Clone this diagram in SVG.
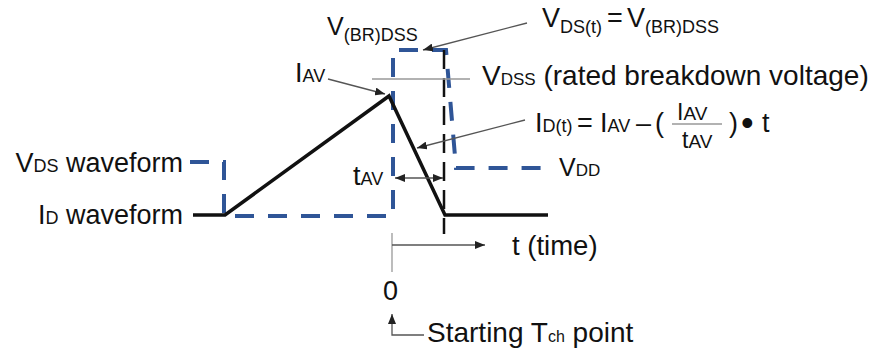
<svg xmlns="http://www.w3.org/2000/svg" width="878" height="352" viewBox="0 0 878 352">
<style>
text{font-family:"Liberation Sans",Arial,sans-serif;fill:#111;}
.m{font-size:27px;}
.s{font-size:18px;}
.vds{fill:none;stroke:#2f5597;stroke-width:4;stroke-dasharray:19 14;}
.id{fill:none;stroke:#111;stroke-width:3.5;stroke-linejoin:miter;}
.blk{fill:none;stroke:#111;stroke-width:2.5;stroke-dasharray:19 9;}
.ptr{fill:none;stroke:#555;stroke-width:1.3;}
.lt{fill:none;stroke:#999;stroke-width:1.3;}
</style>
<defs>
<marker id="ah" markerUnits="userSpaceOnUse" markerWidth="11" markerHeight="8" refX="10" refY="4" orient="auto-start-reverse">
<path d="M0,0 L10,4 L0,8 z" fill="#222"/>
</marker>
</defs>
<g id="waveforms">
<path id="vds-waveform" class="vds" d="M190,162 H224 V216 H393 V50 H446 L456,168 H542"/>
<path id="id-waveform" class="id" d="M193,215 H225 L389,96 L445,215 H548"/>
<path id="t-marker" class="blk" d="M444,50 V234"/>
</g>
<g id="connectors">
<path class="lt" d="M372,79 H470"/>
<path class="ptr" d="M328,79 L385,94" marker-end="url(#ah)"/>
<path class="ptr" d="M527,23 L423,50" marker-end="url(#ah)"/>
<path class="ptr" d="M525,120 L417,148" marker-end="url(#ah)"/>
<path class="ptr" d="M395,178 H443" marker-start="url(#ah)" marker-end="url(#ah)"/>
<path class="lt" d="M392,233 V272"/>
<path class="ptr" d="M392,245 H485" marker-end="url(#ah)"/>
<path class="ptr" d="M424,335 H392 V314" marker-end="url(#ah)"/>
<path class="lt" d="M672,124 H722"/>
</g>
<g id="label-vds-waveform">
<text x="183" y="172" text-anchor="end" class="m" font-size="28">V<tspan class="s">DS</tspan> waveform</text>
</g>
<g id="label-id-waveform">
<text x="183" y="224" text-anchor="end" class="m" font-size="28">I<tspan class="s">D</tspan> waveform</text>
</g>
<g id="label-vbrdss">
<text x="327" y="35" style="font-size:25px">V<tspan class="s" dy="6">(BR)DSS</tspan></text>
</g>
<g id="label-vdst">
<text x="542" y="27" class="m">V<tspan class="s" dy="6">DS(t)</tspan><tspan dy="-6" x="607">=</tspan><tspan x="627">V</tspan><tspan class="s" dy="6">(BR)DSS</tspan></text>
</g>
<g id="label-iav">
<text x="295" y="82" class="m">I<tspan class="s">AV</tspan></text>
</g>
<g id="label-vdss">
<text x="482" y="85" style="font-size:28px">V<tspan style="font-size:17px">DSS</tspan> (rated breakdown voltage)</text>
</g>
<g id="label-idt">
<text x="535" y="132" class="m">I<tspan class="s">D(t)</tspan><tspan x="577">=</tspan><tspan x="600">I</tspan><tspan class="s">AV</tspan><tspan x="636">–</tspan><tspan x="655">(</tspan><tspan x="729">)</tspan><tspan x="741" style="font-size:36px" dy="3">•</tspan><tspan x="762" dy="-3">t</tspan></text>
<text x="677" y="120" style="font-size:23px">I<tspan style="font-size:19px">AV</tspan></text>
<text x="682" y="148" style="font-size:23px">t<tspan style="font-size:19px">AV</tspan></text>
</g>
<g id="label-vdd">
<text x="559" y="176" style="font-size:25px">V<tspan style="font-size:17px">DD</tspan></text>
</g>
<g id="label-tav">
<text x="353" y="185" class="m">t<tspan class="s">AV</tspan></text>
</g>
<g id="label-time">
<text x="512" y="255" style="font-size:27.5px">t (time)</text>
</g>
<g id="label-zero">
<text x="383" y="300" class="m">0</text>
</g>
<g id="label-start">
<text x="427" y="342" style="font-size:28px">Starting T<tspan style="font-size:16px">ch</tspan> point</text>
</g>
</svg>
